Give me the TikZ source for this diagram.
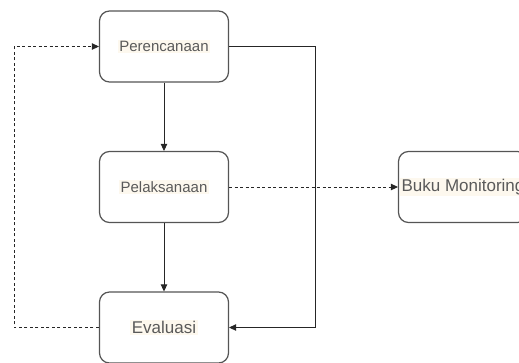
\documentclass[tikz,border=0pt]{standalone}
\usepackage{fontspec}
\setmainfont{Liberation Sans}
\usepackage{tikz}
\usepackage{xcolor}
\usetikzlibrary{arrows.meta}
\definecolor{boxgray}{HTML}{555555}
\definecolor{textgray}{HTML}{5A5A5A}
\definecolor{cream}{HTML}{FDF8EE}
\tikzset{
    step-box/.style = {draw=boxgray, fill=white, line width=1.2pt, rectangle, rounded corners=10pt, minimum width=129pt, minimum height=71pt, inner sep=0pt},
    step-text/.style = {fill=cream, text=textgray, inner sep=1.5pt, font=\fontsize{15}{18}\selectfont},
    big-text/.style = {step-text, font=\fontsize{17}{20}\selectfont},
    flow/.style = {draw=black!85, line width=0.9pt, -{Triangle[length=7pt,width=6.5pt]}},
    flow-dash/.style = {flow, dash pattern=on 3pt off 2.5pt},
}

\begin{document}
\begin{tikzpicture}[x=1pt,y=-1pt]
\useasboundingbox (0,0) rectangle (519,362);
\node [step-box] (plan) at (164,46.5) {};
\node [step-box] (do) at (164,187) {};
\node [step-box] (eval) at (164,327.5) {};
\node [step-box] (book) at (463,187) {};
\node [step-text] (plan-text) at (plan) {Perencanaan};
\node [step-text] (do-text) at (do) {Pelaksanaan};
\node [big-text] (eval-text) at (eval) {Evaluasi};
\node [big-text] (book-text) at (book) {Buku Monitoring};
\coordinate (left-top) at (14,46.5);
\coordinate (left-bot) at (14,327.5);
\coordinate (right-top) at (315,46.5);
\coordinate (right-bot) at (315,327.5);
\draw [flow] (plan.south) -- (do.north);
\draw [flow] (do.south) -- (eval.north);
\draw [flow] (plan.east) -- (right-top) -- (right-bot) -- (eval.east);
\draw [flow-dash] (eval.west) -- (left-bot) -- (left-top) -- (plan.west);
\draw [flow-dash] (do.east) -- (book.west);
\end{tikzpicture}
\end{document}
